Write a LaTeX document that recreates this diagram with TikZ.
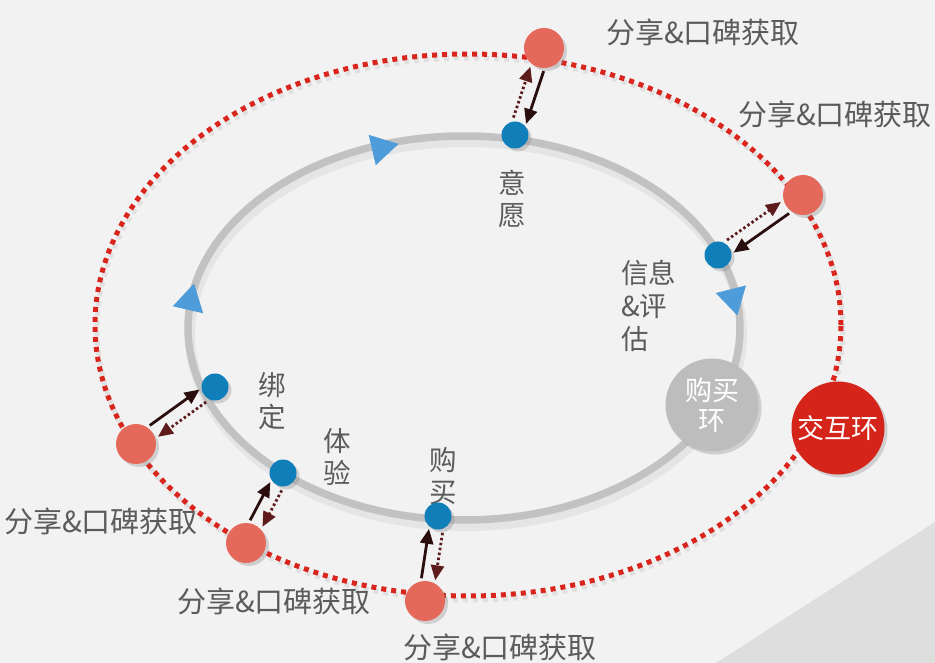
\documentclass[tikz,border=0pt]{standalone}
\usepackage{fontspec}
\setmainfont{Noto Sans CJK SC}
\usetikzlibrary{arrows.meta,calc,shapes.geometric,shadows}
\definecolor{bgc}{HTML}{F2F2F2}
\definecolor{cornerc}{HTML}{DEDEDE}
\definecolor{ringc}{HTML}{C2C2C2}
\definecolor{outerc}{HTML}{DA251D}
\definecolor{redcirc}{HTML}{E5695B}
\definecolor{bigred}{HTML}{D5241A}
\definecolor{graycirc}{HTML}{BDBDBD}
\definecolor{bluedot}{HTML}{0F7EB9}
\definecolor{bluetri}{HTML}{4E9CD9}
\definecolor{arrdark}{HTML}{2A0D0D}
\definecolor{arrdot}{HTML}{5E1B1B}
\definecolor{txtgray}{HTML}{5B5B5B}
\begin{document}
\begin{tikzpicture}[x=1pt,y=-1pt,
  shad/.style={drop shadow={opacity=0.3, shadow xshift=3pt, shadow yshift=-3pt}},
  redc/.style={circle, fill=redcirc, minimum size=40pt, inner sep=0pt, shad},
  bluec/.style={circle, fill=bluedot, minimum size=27pt, inner sep=0pt, shad},
  bigc/.style={circle, minimum size=93pt, inner sep=0pt, text=white, align=center,
     font=\fontsize{27}{32}\selectfont, shad},
  tri/.style={regular polygon, regular polygon sides=3, fill=bluetri, minimum size=36pt, inner sep=0pt},
  outerlbl/.style={text=txtgray, font=\fontsize{29}{33}\selectfont, inner sep=0pt},
  innerlbl/.style={text=txtgray, font=\fontsize{27.5}{32}\selectfont, align=center, inner sep=0pt},
  innerlbll/.style={text=txtgray, font=\fontsize{27.5}{33}\selectfont, align=left, inner sep=0pt},
  solidarr/.style={draw=arrdark, line width=2.8pt, -{Triangle[length=15pt,width=13pt]},
     shorten <=22pt, shorten >=14pt},
  dotarr/.style={draw=arrdot, line width=2.8pt, dash pattern=on 2.5pt off 2.5pt,
     -{Triangle[length=15pt,width=13pt]}, shorten <=16pt, shorten >=22pt}
]
% background
\fill[bgc] (0,0) rectangle (935,663);
\useasboundingbox (0,0) rectangle (935,663);
\fill[cornerc] (935,522) -- (935,663) -- (716,663) -- cycle;

% inner gray ring with soft shadow
\draw[line width=10pt, black, opacity=0.05] (466,334) ellipse [x radius=276pt, y radius=192pt];
\draw[line width=7.5pt, ringc] (464,328) ellipse [x radius=276pt, y radius=192pt];

% outer red dotted ring with soft shadow
\draw[line width=5pt, black, opacity=0.07, dash pattern=on 5pt off 5pt] (470,329) ellipse [x radius=373pt, y radius=271pt];
\draw[line width=5pt, outerc, dash pattern=on 5pt off 5pt] (468,325) ellipse [x radius=373pt, y radius=271pt];

% direction triangles
\node[tri, rotate=-77] (t1) at (381,148) {};
\node[tri, rotate=-13] (t2) at (190,301) {};
\node[tri, rotate=-166] (t3) at (733,298) {};

% inner labels
\node[innerlbl] (l1) at (512,199) {意\\愿};
\node[innerlbll, anchor=west] (l2) at (621,306) {信息\\\&评\\估};
\node[innerlbl] (l3) at (272,401) {绑\\定};
\node[innerlbl] (l4) at (337,457) {体\\验};
\node[innerlbl] (l5) at (443,476) {购\\买};

% outer labels
\node[outerlbl] (o1) at (703,32) {分享\&口碑获取};
\node[outerlbl] (o2) at (835,114) {分享\&口碑获取};
\node[outerlbl] (o3) at (101,521) {分享\&口碑获取};
\node[outerlbl] (o4) at (274,601) {分享\&口碑获取};
\node[outerlbl] (o5) at (500,647) {分享\&口碑获取};

% big circles
\node[bigc, fill=graycirc] (buy) at (712,405) {购买\\[-2pt]环};
\node[bigc, fill=bigred] (inter) at (838,428) {交互环};

% blue dots
\node[bluec] (b1) at (515,135) {};
\node[bluec] (b2) at (718,255) {};
\node[bluec] (b3) at (215,387) {};
\node[bluec] (b4) at (283,473) {};
\node[bluec] (b5) at (438,516) {};

% red circles
\node[redc] (r1) at (544,48) {};
\node[redc] (r2) at (803,195) {};
\node[redc] (r3) at (136,444) {};
\node[redc] (r4) at (246,543) {};
\node[redc] (r5) at (425,601) {};

% arrow pairs
\foreach \r/\b in {r1/b1, r2/b2, r3/b3, r4/b4, r5/b5}{
  \draw[solidarr] ($(\r)!7pt!90:(\b)$) -- ($(\b)!7pt!-90:(\r)$);
  \draw[dotarr] ($(\b)!7pt!90:(\r)$) -- ($(\r)!7pt!-90:(\b)$);
}
\end{tikzpicture}
\end{document}
